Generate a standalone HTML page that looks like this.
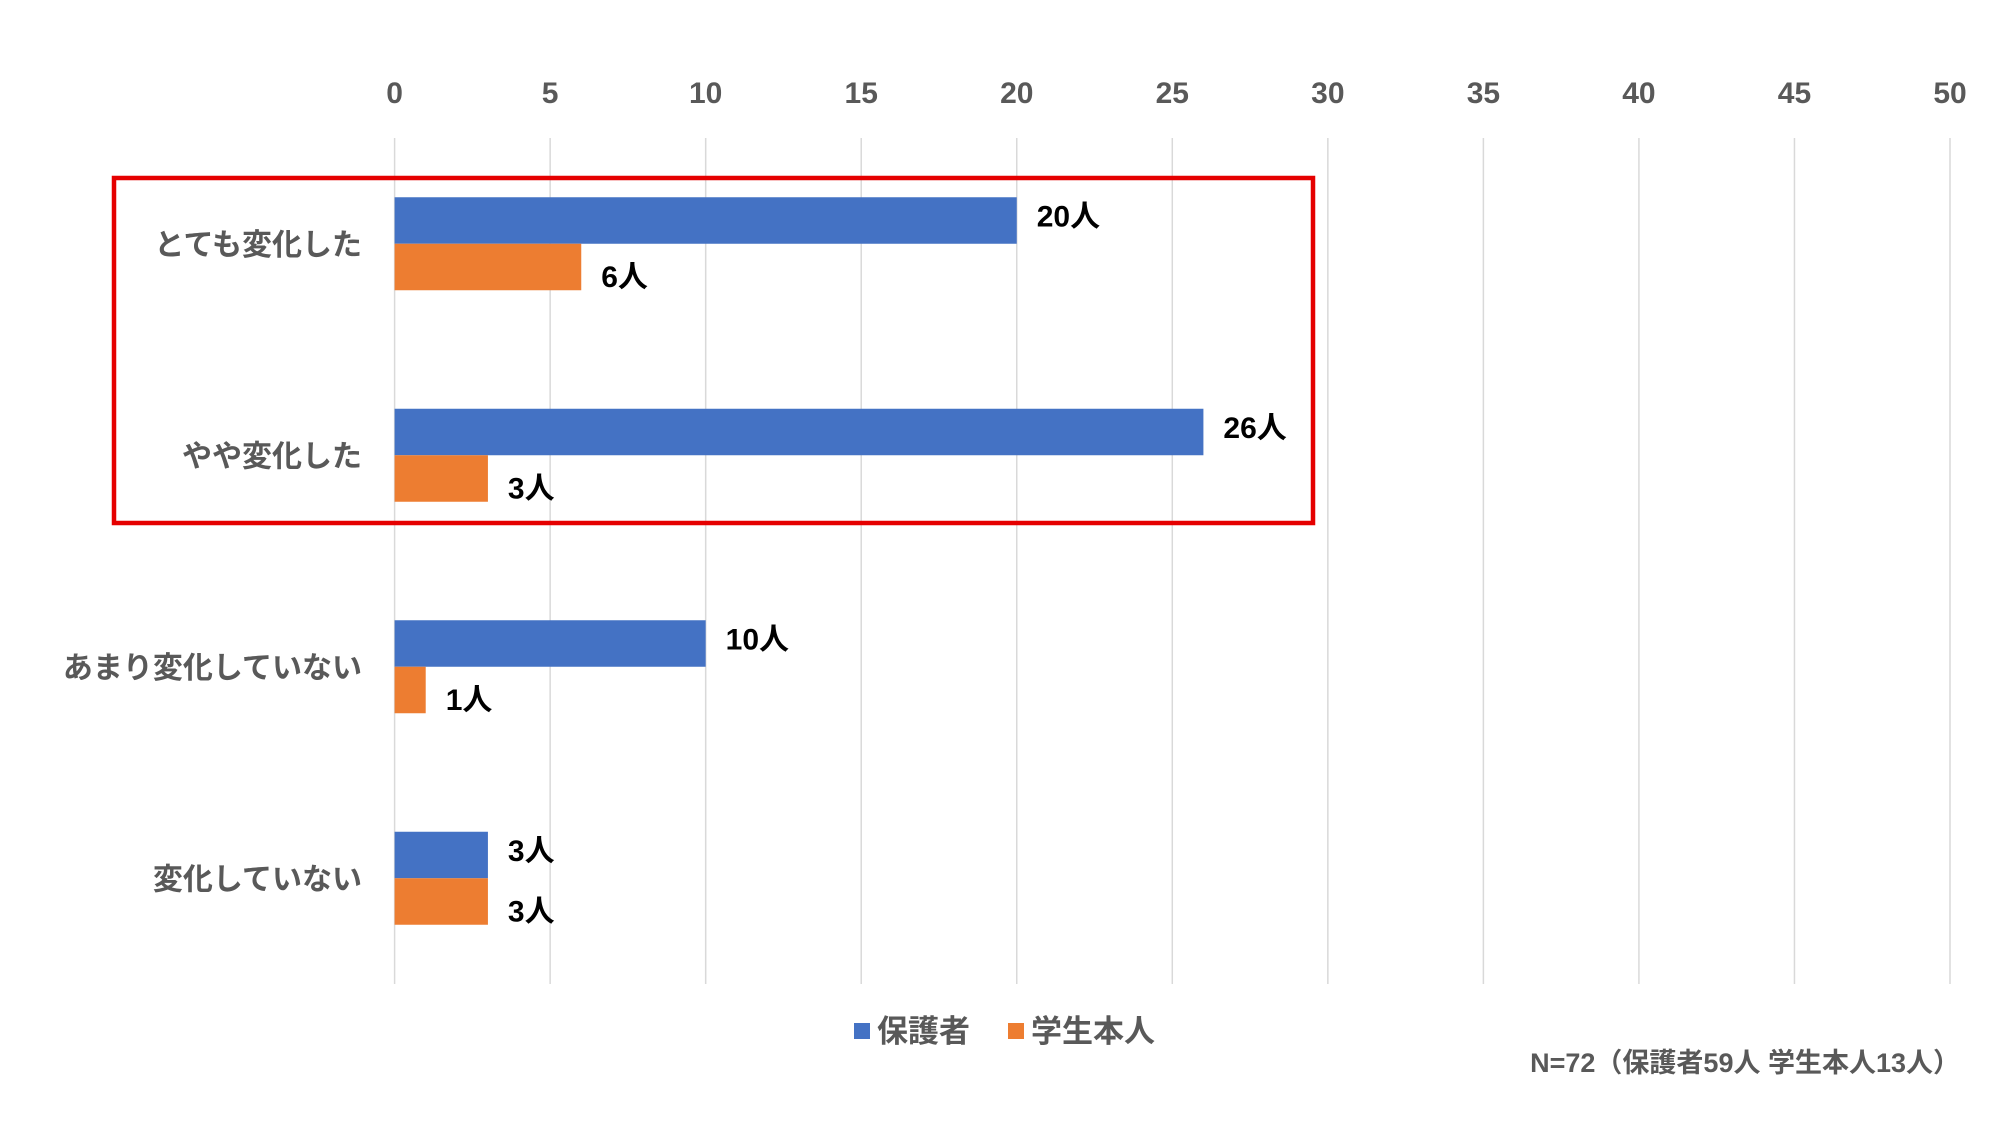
<!DOCTYPE html>
<html><head><meta charset="utf-8"><style>
html,body{margin:0;padding:0;background:#fff;}
svg{display:block;font-family:"Liberation Sans","Noto Sans CJK JP",sans-serif;}
</style></head><body>
<svg id="chart" width="2000" height="1125" viewBox="0 0 2000 1125">
<g id="grid"></g>
<g id="ticks"></g>
<g id="bars"></g>
<g id="cats"></g>
<rect x="114" y="178" width="1199" height="345" fill="none" stroke="#e50000" stroke-width="4.5"/>
<g>
<rect x="854" y="1023" width="16" height="16" fill="#4472c4"/>
<text x="877" y="1042" font-size="31" font-weight="bold" fill="#595959">保護者</text>
<rect x="1008" y="1023" width="16" height="16" fill="#ed7d31"/>
<text x="1031" y="1042" font-size="31" font-weight="bold" fill="#595959">学生本人</text>
</g>
<text x="1960" y="1072" text-anchor="end" font-size="27" font-weight="bold" fill="#595959">N=72（保護者59人 学生本人13人）</text>
</svg>
<script>
const categories = ["とても変化した","やや変化した","あまり変化していない","変化していない"];
const parents = [20,26,10,3];
const students = [6,3,1,3];
const tickValues = [0,5,10,15,20,25,30,35,40,45,50];
const unit = "人";

const NS="http://www.w3.org/2000/svg";
const X0=394.6,X1=1950,XMAX=50,TOP=138,BOT=984;
const xs=v=>X0+(X1-X0)*v/XMAX;
const band=(BOT-TOP)/categories.length;
const barH=46.5;
function mk(tag,attrs,parent){const e=document.createElementNS(NS,tag);for(const k in attrs)e.setAttribute(k,attrs[k]);parent.appendChild(e);return e;}
const grid=document.getElementById('grid'),ticks=document.getElementById('ticks'),bars=document.getElementById('bars'),cats=document.getElementById('cats');
tickValues.forEach(t=>{
  const l=mk('line',{x1:xs(t),x2:xs(t),y1:TOP,y2:BOT,stroke:'#d9d9d9','stroke-width':1.5},grid);
  
  
  const tx=mk('text',{x:xs(t),y:103,'text-anchor':'middle','font-size':30,'font-weight':'bold',fill:'#595959'},ticks);
  tx.textContent=t;
  
  
});
categories.forEach((c,i)=>{
  const cy=TOP+band*i+band/2;
  const lab=mk('text',{x:362,y:cy+11,'text-anchor':'end','font-size':30,'font-weight':'bold',fill:'#595959'},cats);
  lab.textContent=c;
  
  
  [[parents,'#4472c4',-barH,-5,'parents'],[students,'#ed7d31',0,9,'students']].forEach(([arr,col,off,lo,nm])=>{
    const v=arr[i];
    const r=mk('rect',{x:X0,y:cy+off,width:xs(v)-X0,height:barH,fill:col},bars);
    
    
    const t=mk('text',{x:xs(v)+20,y:cy+off+barH/2+lo+11,'font-size':30,'font-weight':'bold',fill:'#000'},bars);
    t.textContent=v+unit;
    
    
  });
});
</script>
</body></html>
